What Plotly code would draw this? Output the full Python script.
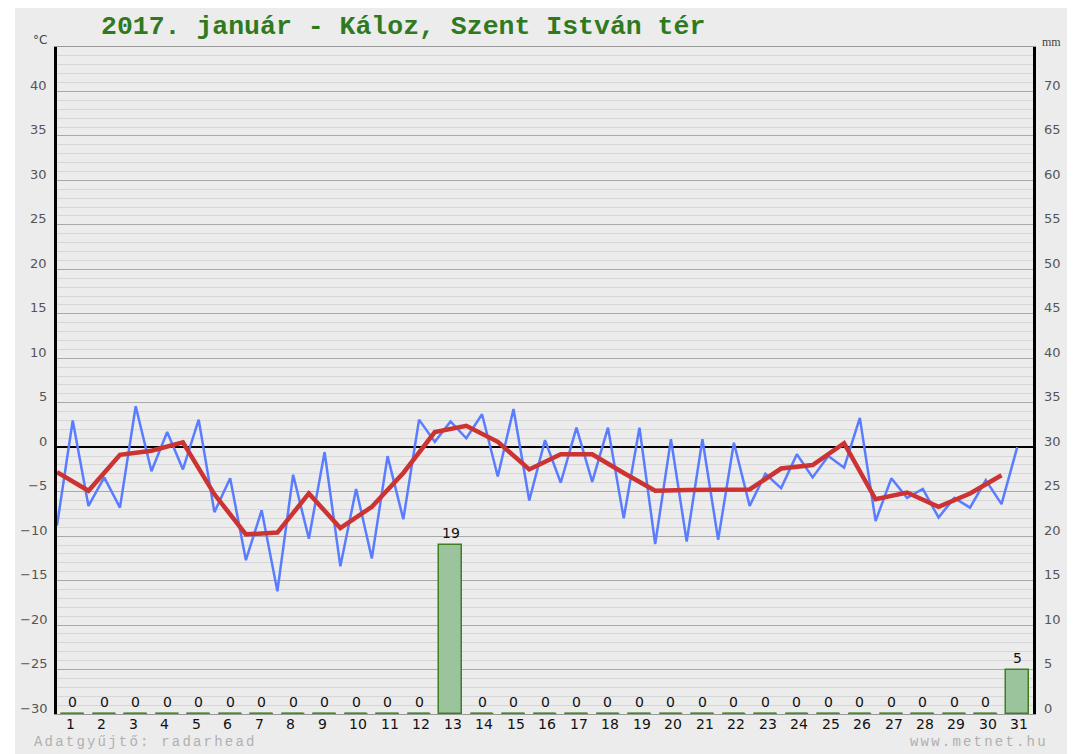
import plotly.graph_objects as go

# ---- data ----
days = list(range(1, 32))
day_labels = [str(d) for d in days]
# temperature sampled twice per day (°C)
temp_halfday = [-8.8, 3.0, -6.6, -3.4, -6.8, 4.6, -2.7, 1.7, -2.5, 3.1, -7.3, -3.5, -12.7, -7.1, -16.2, -3.1,
                -10.3, -0.55, -13.4, -4.7, -12.5, -1.0, -8.1, 3.1, 0.6, 2.9, 1.0, 3.7, -3.3, 4.3, -6.0,
                0.8, -4.0, 2.2, -3.9, 2.2, -8.0, 2.2, -10.9, 0.9, -10.6, 0.9, -10.4, 0.5, -6.6, -3.0,
                -4.6, -0.8, -3.4, -1.0, -2.3, 3.3, -8.3, -3.5, -5.7, -4.7, -7.9, -5.7, -6.8, -3.7, -6.4, 0.0]
# daily mean temperature (°C)
temp_daily = [-2.8, -4.9, -0.85, -0.4, 0.55, -5.3, -9.8, -9.6, -5.2, -9.1, -6.7, -2.9, 1.7, 2.4, 0.6, -2.5,
              -0.8, -0.8, -2.9, -4.9, -4.8, -4.75, -4.75, -2.4, -2.0, 0.45, -5.85, -5.1, -6.7, -5.2, -3.15]
# daily precipitation (mm)
precip = [0] * 12 + [19] + [0] * 17 + [5]

title_text = "2017. január - Káloz, Szent István tér"
left_ticks = list(range(-30, 41, 5))
right_ticks = list(range(0, 71, 5))

# ---- geometry (page pixels; the page body adds an 8px offset) ----
OFF = 8
W, H = 1075 - OFF, 754 - OFF
PL, PR, PT, PB = 57, 1033, 47, 714          # plot area on the page
ML, MR, MT, MB = PL - OFF, OFF + W - PR, PT - OFF, OFF + H - PB
PW, PH = PR - PL, PB - PT


def px(x):
    return (x - PL) / PW


def py(y):
    return (PB - y) / PH


x_half = [k * 0.5 for k in range(len(temp_halfday))]
x_daily = [float(j) for j in range(len(temp_daily))]
x_center = [d - 0.5 for d in days]
bar_w = 0.72

fig = go.Figure()

# precipitation bars
fig.add_trace(go.Bar(
    x=x_center, y=precip, yaxis="y2", width=bar_w,
    marker=dict(color="#9cc49c", line=dict(color="#3f7f22", width=1.5)),
    hoverinfo="skip", showlegend=False,
))
# zero-precip markers along the base
zx, zy = [], []
for xc, p in zip(x_center, precip):
    if p == 0:
        zx += [xc - bar_w / 2, xc + bar_w / 2, None]
        zy += [0, 0, None]
fig.add_trace(go.Scatter(
    x=zx, y=zy, yaxis="y2", mode="lines",
    line=dict(color="#3f8f22", width=2.5), cliponaxis=False,
    hoverinfo="skip", showlegend=False,
))
# temperature lines
fig.add_trace(go.Scatter(
    x=x_half, y=temp_halfday, mode="lines",
    line=dict(color="#5a7dff", width=2.5), hoverinfo="skip", showlegend=False,
))
fig.add_trace(go.Scatter(
    x=x_daily, y=temp_daily, mode="lines",
    line=dict(color="#cc3333", width=4.5), hoverinfo="skip", showlegend=False,
))

annotations = []
# precip value labels
for xc, p in zip(x_center, precip):
    annotations.append(dict(
        text=str(p), xref="x", yref="y2", x=xc, y=p, xanchor="center", yanchor="bottom",
        yshift=2, showarrow=False,
        font=dict(family="DejaVu Sans", size=14, color="#111")))
# day labels (left-aligned just left of each band centre)
for xc, lab in zip(x_center, day_labels):
    annotations.append(dict(
        text=lab, xref="x", yref="paper", x=xc - 0.28, y=py(724), xanchor="left",
        yanchor="middle", showarrow=False,
        font=dict(family="DejaVu Sans", size=14, color="#111")))
# left temperature tick labels
for t in left_ticks:
    annotations.append(dict(
        text=str(t).replace("-", "\u2212"), xref="paper", yref="y", x=px(49), y=t,
        xanchor="right", yanchor="middle", yshift=6, showarrow=False,
        font=dict(family="DejaVu Sans", size=13, color="#555")))
# right precipitation tick labels
for t in right_ticks:
    annotations.append(dict(
        text=str(t), xref="paper", yref="y2", x=px(1042), y=t,
        xanchor="left", yanchor="middle", yshift=6, showarrow=False,
        font=dict(family="DejaVu Sans", size=13, color="#555")))

annotations += [
    dict(text=title_text, xref="paper", yref="paper", x=px(99), y=py(27),
         xanchor="left", yanchor="middle", showarrow=False,
         font=dict(family="Liberation Mono", size=26.5, color="#2f7a1f", weight="bold")),
    dict(text="°C", xref="paper", yref="paper", x=px(40), y=py(40),
         xanchor="center", yanchor="middle", showarrow=False,
         font=dict(family="DejaVu Sans", size=12, color="#444")),
    dict(text="mm", xref="paper", yref="paper", x=px(1051), y=py(42),
         xanchor="center", yanchor="middle", showarrow=False,
         font=dict(family="Liberation Serif", size=12, color="#444")),
    dict(text='<span style="letter-spacing:2.2px">Adatgyűjtő: radarhead</span>',
         xref="paper", yref="paper", x=px(32), y=py(742),
         xanchor="left", yanchor="middle", showarrow=False,
         font=dict(family="Liberation Mono", size=14, color="#b0b0b0")),
    dict(text='<span style="letter-spacing:2.2px">www.metnet.hu</span>',
         xref="paper", yref="paper", x=px(908), y=py(742),
         xanchor="left", yanchor="middle", showarrow=False,
         font=dict(family="Liberation Mono", size=14, color="#b0b0b0")),
]

fig.update_layout(
    width=W, height=H,
    margin=dict(l=ML, r=MR, t=MT, b=MB, pad=0),
    paper_bgcolor="white",
    plot_bgcolor="rgba(0,0,0,0)",
    bargap=0,
    xaxis=dict(
        range=[0, 31], showticklabels=False,
        showgrid=False, zeroline=False, showline=True, mirror=True,
        linecolor="#999", linewidth=1, ticks="", fixedrange=True,
    ),
    yaxis=dict(
        range=[-30, 45], tickvals=left_ticks, showticklabels=False,
        showgrid=True, gridcolor="#a9a9a9", gridwidth=1,
        minor=dict(dtick=1, tick0=0, showgrid=True, gridcolor="#d6d6d6", gridwidth=1),
        zeroline=True, zerolinecolor="#000", zerolinewidth=1.5,
        showline=True, linecolor="#000", linewidth=3, ticks="", fixedrange=True,
    ),
    yaxis2=dict(
        range=[0, 75], overlaying="y", side="right",
        tickvals=right_ticks, showticklabels=False,
        showgrid=False, zeroline=False,
        showline=True, linecolor="#000", linewidth=3, ticks="", fixedrange=True,
    ),
    shapes=[dict(
        type="rect", xref="paper", yref="paper", layer="below",
        x0=px(15), x1=px(1072), y0=py(760), y1=py(0),
        fillcolor="#ececec", line=dict(width=0),
    )],
    annotations=annotations,
)

fig.write_html("out.html")
